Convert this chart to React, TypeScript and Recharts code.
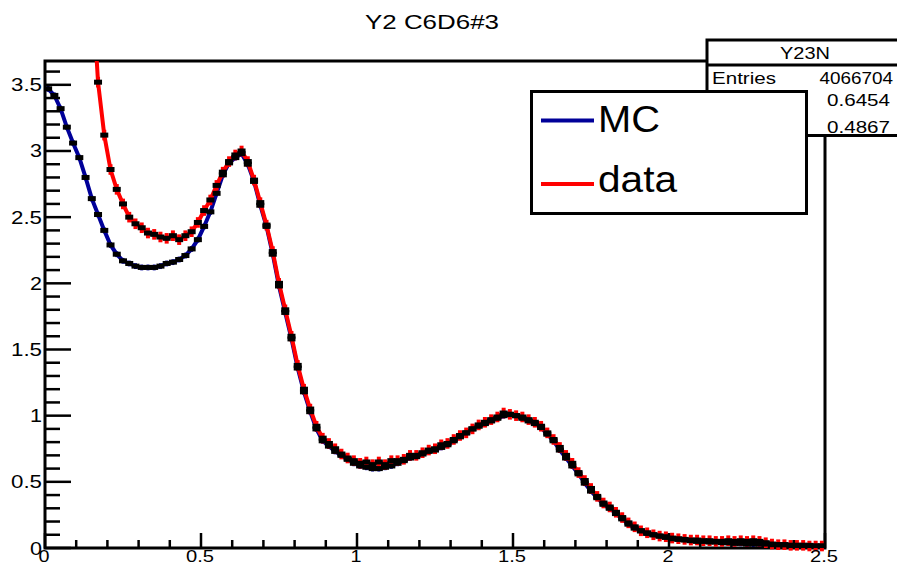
import React from 'react';
import { ComposedChart, Line, XAxis, YAxis, ReferenceArea, Legend, ErrorBar } from 'recharts';

const W = 897;
const H = 566;
const PLOT_LEFT = 45;
const PLOT_BOTTOM = 548;
const FONT = '"Liberation Sans", Arial, Helvetica, sans-serif';

// Bin centres (bin width 0.02)
const binCenters: number[] = Array.from({ length: 125 }, (_, i) => Math.round((0.01 + 0.02 * i) * 100) / 100);

// MC series (navy)
const mcValues: number[] = [
  3.47, 3.42, 3.32, 3.18, 3.06, 2.95, 2.80, 2.64, 2.52, 2.40,
  2.29, 2.22, 2.17, 2.15, 2.13, 2.12, 2.12, 2.12, 2.13, 2.15,
  2.16, 2.18, 2.21, 2.26, 2.33, 2.43, 2.54, 2.68, 2.82, 2.91,
  2.95, 2.98, 2.90, 2.77, 2.59, 2.43, 2.22, 1.98, 1.78, 1.58,
  1.36, 1.18, 1.03, 0.90, 0.81, 0.77, 0.73, 0.70, 0.67, 0.64,
  0.62, 0.61, 0.60, 0.60, 0.61, 0.62, 0.64, 0.66, 0.68, 0.69,
  0.71, 0.73, 0.74, 0.76, 0.78, 0.81, 0.84, 0.87, 0.90, 0.92,
  0.94, 0.96, 0.98, 1.00, 1.01, 1.00, 0.98, 0.96, 0.94, 0.91,
  0.86, 0.81, 0.74, 0.68, 0.62, 0.56, 0.49, 0.43, 0.38, 0.33,
  0.30, 0.26, 0.22, 0.18, 0.15, 0.13, 0.11, 0.10, 0.09, 0.08,
  0.07, 0.065, 0.06, 0.055, 0.05, 0.05, 0.045, 0.045, 0.04, 0.04,
  0.035, 0.035, 0.03, 0.03, 0.03, 0.03, 0.025, 0.025, 0.025, 0.02,
  0.02, 0.02, 0.02, 0.015, 0.015,
];

// data series (red); first bins lie far above the visible range / empty
const dataValues: (number | null)[] = [
  null, null, null, null, null, null, null, 4.30, 3.52, 3.12,
  2.86, 2.71, 2.60, 2.50, 2.45, 2.42, 2.38, 2.37, 2.35, 2.34,
  2.36, 2.33, 2.36, 2.39, 2.46, 2.55, 2.63, 2.74, 2.84, 2.92,
  2.97, 3.00, 2.92, 2.78, 2.61, 2.44, 2.24, 2.00, 1.80, 1.60,
  1.38, 1.20, 1.05, 0.92, 0.83, 0.79, 0.75, 0.71, 0.68, 0.66,
  0.64, 0.65, 0.63, 0.65, 0.63, 0.66, 0.66, 0.67, 0.70, 0.70,
  0.72, 0.74, 0.75, 0.78, 0.79, 0.82, 0.85, 0.87, 0.90, 0.93,
  0.95, 0.97, 0.99, 1.02, 1.01, 1.00, 0.99, 0.97, 0.95, 0.92,
  0.87, 0.82, 0.76, 0.70, 0.64, 0.57, 0.51, 0.45, 0.39, 0.34,
  0.31, 0.27, 0.23, 0.19, 0.16, 0.13, 0.115, 0.10, 0.09, 0.085,
  0.075, 0.07, 0.065, 0.06, 0.06, 0.055, 0.055, 0.05, 0.05, 0.055,
  0.05, 0.055, 0.05, 0.055, 0.05, 0.04, 0.03, 0.025, 0.025, 0.02,
  0.02, 0.02, 0.015, 0.015, 0.015,
];

const MC_ERR = 0.022;
const DATA_ERR = 0.04;

const xTicks: number[] = Array.from({ length: 26 }, (_, i) => Math.round(i) / 10);
const yTicks: number[] = Array.from({ length: 37 }, (_, i) => Math.round(i) / 10);
const X_DOMAIN: [number, number] = [0, 2.5];
const Y_DOMAIN: [number, number] = [0, 3.68];

const title = 'Y2 C6D6#3';
const statsName = 'Y23N';
const statsRows = [
  { label: 'Entries', value: '4066704' },
  { label: '', value: '0.6454' },
  { label: '', value: '0.4867' },
];

const tableData = binCenters.map((x, i) => ({
  x,
  mc: mcValues[i],
  mcErr: MC_ERR,
  data: dataValues[i],
  dataErr: dataValues[i] == null ? null : DATA_ERR,
}));

const isMajor = (v: number) => Math.abs(v * 2 - Math.round(v * 2)) < 1e-6;

const renderXTick = (props: any) => {
  const { x, payload } = props;
  const v = payload.value as number;
  const major = isMajor(v);
  const label = String(v);
  return (
    <g>
      <line x1={x} x2={x} y1={PLOT_BOTTOM} y2={PLOT_BOTTOM - (major ? 15 : 8)} stroke="#000" strokeWidth={2.5} />
      {major && (
        <text x={x - 1} y={562} textAnchor="middle" fontSize={17} fontFamily={FONT} fill="#000"
          textLength={label.length > 1 ? 28 : 11} lengthAdjust="spacingAndGlyphs">{label}</text>
      )}
    </g>
  );
};

const renderYTick = (props: any) => {
  const { y, payload } = props;
  const v = payload.value as number;
  const major = isMajor(v);
  const label = String(v);
  return (
    <g>
      <line x1={PLOT_LEFT} x2={PLOT_LEFT + (major ? 26 : 15)} y1={y} y2={y} stroke="#000" strokeWidth={2.5} />
      {major && (
        <text x={42} y={y + 6.5} textAnchor="end" fontSize={18} fontFamily={FONT} fill="#000"
          textLength={label.length > 1 ? 31 : 12} lengthAdjust="spacingAndGlyphs">{label}</text>
      )}
    </g>
  );
};

const renderDash = (props: any) => {
  const { cx, cy, index, value } = props;
  if (cx == null || cy == null || value == null || isNaN(cy)) return <g key={`n-${index}`} />;
  return <rect key={`d-${index}`} x={cx - 4} y={cy - 2.5} width={8} height={5} fill="#000" />;
};

const legendColors: Record<string, string> = { MC: '#000099', data: '#ff0000' };

const renderLegend = (props: any) => {
  const payload = (props && props.payload) || [];
  const items = payload.length ? payload : [{ value: 'MC' }, { value: 'data' }];
  return (
    <svg width={278} height={125} style={{ display: 'block' }}>
      <rect x={1.5} y={1.5} width={275} height={122} fill="#fff" stroke="#000" strokeWidth={3} />
      {items.map((it: any, i: number) => {
        const name = String(it.value);
        const ly = i === 0 ? 30.5 : 94;
        const ty = i === 0 ? 42 : 102;
        return (
          <g key={name}>
            <line x1={11} x2={64} y1={ly} y2={ly} stroke={legendColors[name] || it.color} strokeWidth={4} />
            <text x={68} y={ty} fontSize={36} fontFamily={FONT} fill="#000"
              textLength={name === 'MC' ? 62 : 79} lengthAdjust="spacingAndGlyphs">{name}</text>
          </g>
        );
      })}
    </svg>
  );
};

export default function App() {
  return (
    <div style={{ position: 'absolute', left: 0, top: 0, width: W, height: H, background: '#fff' }}>
      <ComposedChart
        width={W}
        height={H}
        data={tableData}
        margin={{ top: 61, right: 72, bottom: 0, left: 0 }}
      >
        <XAxis dataKey="x" type="number" domain={X_DOMAIN} ticks={xTicks} interval={0}
          allowDataOverflow height={18} axisLine={false} tickLine={false} tick={renderXTick} />
        <YAxis type="number" domain={Y_DOMAIN} ticks={yTicks} interval={0}
          allowDataOverflow width={45} axisLine={false} tickLine={false} tick={renderYTick} />
        <Line name="MC" dataKey="mc" type="linear" stroke="#000099" strokeWidth={4}
          dot={renderDash} activeDot={false} isAnimationActive={false} connectNulls={false}>
          <ErrorBar dataKey="mcErr" width={0} stroke="#000099" strokeWidth={3} direction="y" />
        </Line>
        <Line name="data" dataKey="data" type="linear" stroke="#ff0000" strokeWidth={4}
          dot={renderDash} activeDot={false} isAnimationActive={false} connectNulls={false}>
          <ErrorBar dataKey="dataErr" width={0} stroke="#ff0000" strokeWidth={4} direction="y" />
        </Line>
        <ReferenceArea x1={X_DOMAIN[0]} x2={X_DOMAIN[1]} y1={Y_DOMAIN[0]} y2={Y_DOMAIN[1]}
          fill="none" fillOpacity={0} stroke="#000" strokeWidth={3} ifOverflow="visible" />
        <Legend layout="horizontal" verticalAlign="middle" align="center" content={renderLegend}
          wrapperStyle={{ position: 'absolute', left: 530, top: 90, width: 278, height: 125, zIndex: 2 }} />
      </ComposedChart>
      <svg width={W} height={H} style={{ position: 'absolute', left: 0, top: 0, zIndex: 1, pointerEvents: 'none' }}>
        <text x={432} y={29} textAnchor="middle" fontSize={20} fontFamily={FONT} fill="#000"
          textLength={134} lengthAdjust="spacingAndGlyphs">{title}</text>
        <rect x={707} y={40} width={200} height={95.5} fill="#fff" stroke="#000" strokeWidth={3} />
        <line x1={707} x2={W} y1={65} y2={65} stroke="#000" strokeWidth={3} />
        <text x={805} y={59} textAnchor="middle" fontSize={17} fontFamily={FONT} fill="#000"
          textLength={50} lengthAdjust="spacingAndGlyphs">{statsName}</text>
        {statsRows.map((r, i) => {
          const base = [84, 106, 133][i];
          return (
            <g key={i}>
              {r.label && (
                <text x={712} y={base} fontSize={17} fontFamily={FONT} fill="#000"
                  textLength={64} lengthAdjust="spacingAndGlyphs">{r.label}</text>
              )}
              <text x={i === 0 ? 893 : 890} y={base} textAnchor="end" fontSize={17} fontFamily={FONT} fill="#000"
                textLength={r.value.length * 10.5} lengthAdjust="spacingAndGlyphs">{r.value}</text>
            </g>
          );
        })}
      </svg>
    </div>
  );
}
